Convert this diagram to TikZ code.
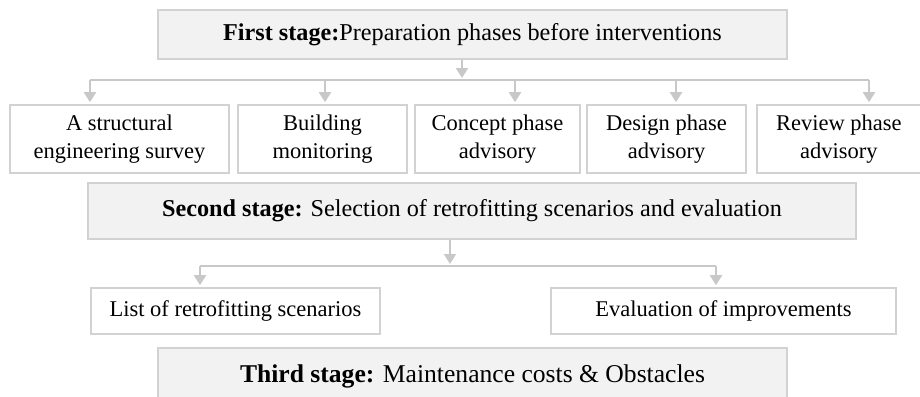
\documentclass[tikz,border=0pt]{standalone}
\usepackage{fontspec}
\setmainfont{Liberation Serif}
\usetikzlibrary{arrows.meta}
\definecolor{boxline}{HTML}{D2D2D2}
\definecolor{boxfill}{HTML}{F2F2F2}
\definecolor{arrline}{HTML}{C8C8C8}
\begin{document}
\begin{tikzpicture}[x=1pt,y=-1pt,
  every node/.style={font=\fontsize{22.5}{28}\selectfont, text=black, align=center, inner sep=0pt},
  stagebox/.style={draw=boxline, fill=boxfill, line width=2pt, font=\fontsize{24.2}{29}\selectfont},
  itembox/.style={draw=boxline, fill=white, line width=1.6pt},
  conn/.style={draw=arrline, line width=2pt},
  arr/.style={conn, -{Triangle[length=10pt,width=12pt]}, shorten >=2pt}]
\useasboundingbox (0,0) rectangle (920,396);
\clip (0,0) rectangle (920,396);

% stage boxes
\node[stagebox, minimum width=629pt, minimum height=49pt] (s1) at (472.5,34.5)
  {\textbf{First stage:}Preparation phases before interventions};
\node[stagebox, minimum width=768pt, minimum height=56pt] (s2) at (472,211)
  {\textbf{Second stage:} Selection of retrofitting scenarios and evaluation};
\node[stagebox, minimum width=629pt, minimum height=64pt, font=\fontsize{25.6}{30}\selectfont] (s3) at (472.5,380)
  {\raisebox{13pt}{\textbf{Third stage:} Maintenance costs \& Obstacles}};

% first-row boxes
\node[itembox, minimum width=219pt, minimum height=68pt] (b1) at (119.5,139) {A structural\\engineering survey};
\node[itembox, minimum width=169pt, minimum height=68pt] (b2) at (322.5,139) {Building\\monitoring};
\node[itembox, minimum width=165pt, minimum height=68pt] (b3) at (497.5,139) {Concept phase\\advisory};
\node[itembox, minimum width=159pt, minimum height=68pt] (b4) at (666.5,139) {Design phase\\advisory};
\node[itembox, minimum width=180pt, minimum height=68pt, anchor=west] (b5) at (756,139) {\hspace*{-16pt}Review phase\\\hspace*{-16pt}advisory};

% second-row boxes
\node[itembox, minimum width=289pt, minimum height=46pt] (c1) at (235.5,311) {List of retrofitting scenarios};
\node[itembox, minimum width=345pt, minimum height=46pt] (c2) at (723.5,311) {Evaluation of improvements};

% bus 1
\coordinate (j1) at (462,80);
\coordinate (a1) at (90,80);
\coordinate (a2) at (325,80);
\coordinate (a3) at (515,80);
\coordinate (a4) at (676,80);
\coordinate (a5) at (869,80);
\draw[arr] (s1.south -| j1) -- (j1);
\draw[conn] (a1) -- (a5);
\draw[arr] (a1) -- (a1 |- b1.north);
\draw[arr] (a2) -- (a2 |- b2.north);
\draw[arr] (a3) -- (a3 |- b3.north);
\draw[arr] (a4) -- (a4 |- b4.north);
\draw[arr] (a5) -- (a5 |- b5.north);

% bus 2
\coordinate (j2) at (450,266);
\coordinate (d1) at (200,266);
\coordinate (d2) at (716,266);
\draw[arr] (s2.south -| j2) -- (j2);
\draw[conn] (d1) -- (d2);
\draw[arr] (d1) -- (d1 |- c1.north);
\draw[arr] (d2) -- (d2 |- c2.north);
\end{tikzpicture}
\end{document}
